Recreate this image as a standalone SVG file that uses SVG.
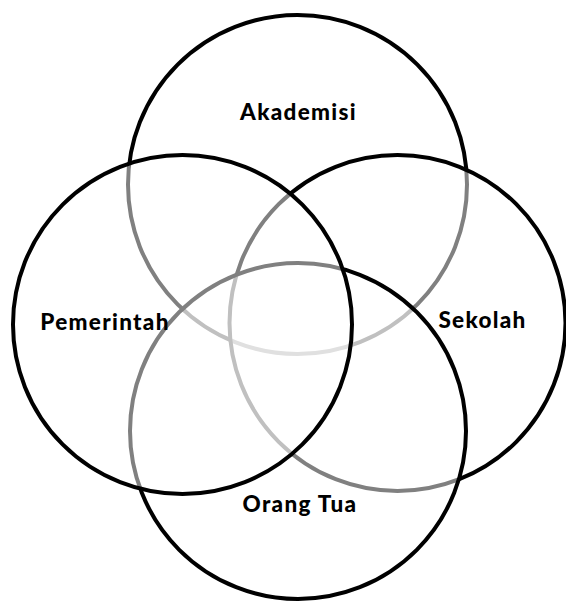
<svg xmlns="http://www.w3.org/2000/svg" width="566" height="601" viewBox="0 0 566 601">
<style>
.c{fill:#fff;fill-opacity:0.5;stroke:#000;stroke-width:4}
.t{font-family:Lato,"Liberation Sans",sans-serif;font-weight:900;font-size:22.5px;fill:#000;text-anchor:middle;letter-spacing:1.3px}
</style>
<rect width="566" height="601" fill="#fff"/>
<g id="connectors"></g>
<g id="akademisi">
<circle class="c" cx="297.5" cy="184.5" r="169.5"/>
<text class="t" x="298.5" y="120">Akademisi</text>
</g>
<g id="sekolah">
<circle class="c" cx="397.5" cy="323" r="168"/>
<text class="t" x="482.5" y="328">Sekolah</text>
</g>
<g id="orang-tua">
<circle class="c" cx="298" cy="431" r="168"/>
<text class="t" x="300" y="512">Orang Tua</text>
</g>
<g id="pemerintah">
<circle class="c" cx="182.5" cy="324.5" r="169.5"/>
<text class="t" x="105" y="330">Pemerintah</text>
</g>
</svg>
